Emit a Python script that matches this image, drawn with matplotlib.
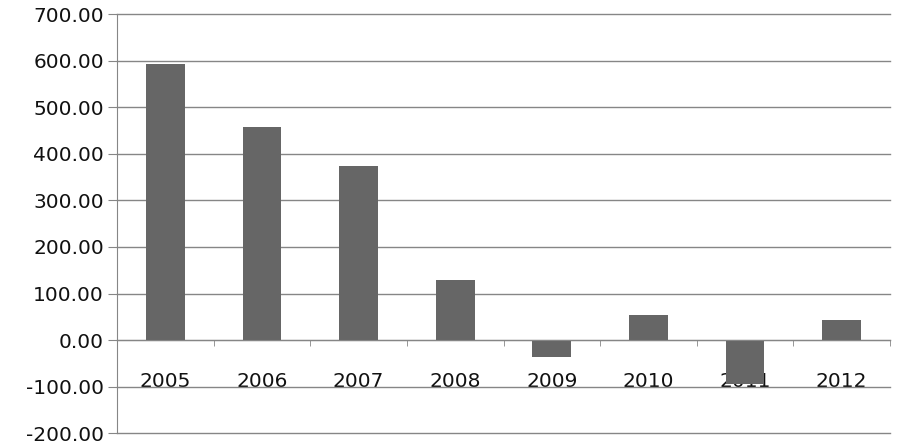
import numpy as np
import matplotlib
matplotlib.use("Agg")
import matplotlib.pyplot as plt

years = ["2005", "2006", "2007", "2008", "2009", "2010", "2011", "2012"]
values = [593, 459, 374, 129, -36, 53, -95, 42]
yticks = list(range(-200, 701, 100))

plt.rcParams['font.family'] = ['DejaVu Sans']

fig = plt.figure(figsize=(9, 4.47), dpi=100)
ax = fig.add_axes([0.13, 0.0313, 0.8589, 0.9363])

x = np.arange(len(years))
grid_c = "#868686"

ax.bar(x, values, width=0.4, color="#666666", zorder=3)

ax.set_xlim(-0.5, len(years) - 0.5)
ax.set_ylim(-200, 700)
ax.set_yticks(yticks)
ax.set_yticklabels([f"{v:.2f}" for v in yticks], fontsize=14.5, color="#111111")
ax.yaxis.grid(True, color=grid_c, linewidth=1, zorder=0)
for gl in ax.yaxis.get_gridlines():
    gl.set_clip_on(False)
ax.set_axisbelow(True)

# x axis sits at zero, labels hang below it
ax.spines['bottom'].set_position(('data', 0))
ax.spines['bottom'].set_color(grid_c)
ax.spines['bottom'].set_zorder(4)
ax.spines['left'].set_color(grid_c)
ax.spines['top'].set_visible(False)
ax.spines['right'].set_visible(False)

ax.set_xticks(x)
ax.set_xticklabels(years, fontsize=14.5, color="#111111")
ax.set_xticks(np.arange(0.5, len(years), 1.0), minor=True)
ax.tick_params(axis='x', which='major', length=0, pad=23)
ax.tick_params(axis='x', which='minor', length=4, color=grid_c, direction='out')
ax.tick_params(axis='y', length=6.5, color=grid_c, pad=3)

fig.savefig("out.png", dpi=100)
